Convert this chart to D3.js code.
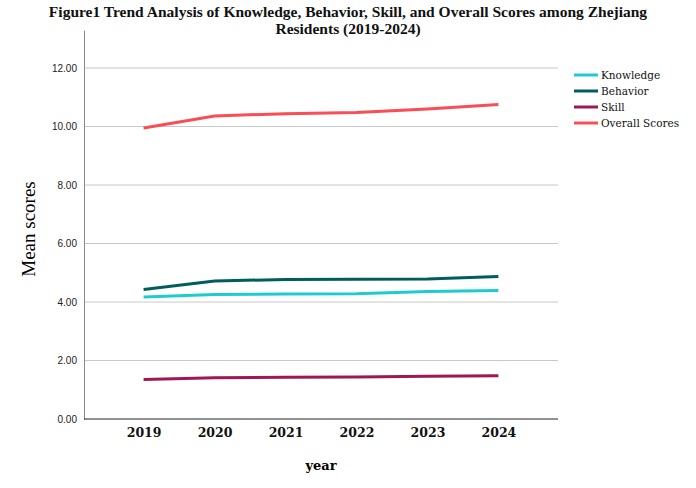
<!DOCTYPE html>
<html><head><meta charset="utf-8">
<script src="https://cdn.jsdelivr.net/npm/d3@7"></script>
<style>body{margin:0;background:#fff}</style>
</head><body>
<svg id="c" width="696" height="488"></svg>
<script>
const years = ["2019","2020","2021","2022","2023","2024"];
const knowledge = [4.17,4.26,4.27,4.28,4.36,4.39];
const behavior = [4.43,4.72,4.77,4.78,4.79,4.87];
const skill = [1.35,1.41,1.43,1.44,1.46,1.48];
const overall = [9.95,10.36,10.44,10.48,10.60,10.75];
const yTicks = [0,2,4,6,8,10,12];
const seriesNames = ["Knowledge","Behavior","Skill","Overall Scores"];
const seriesColors = ["#1ecbcf","#005d5d","#9f1853","#fa4d56"];
const seriesData = [knowledge, behavior, skill, overall];

const svg = d3.select("#c");
const L=84, R=558, T=30, B=419;
const x = d3.scalePoint().domain(years).range([L,R]).padding(0.84);
const y = d3.scaleLinear().domain([0,13.3]).range([B,T]);

// grid
svg.append("g").selectAll("line").data(yTicks.filter(d=>d>0)).join("line")
  .attr("x1",L).attr("x2",R).attr("y1",d=>y(d)).attr("y2",d=>y(d))
  .attr("stroke","#c8c8c8").attr("stroke-width",1);

// y axis
const ya = svg.append("g").attr("transform",`translate(${L},0)`)
  .call(d3.axisLeft(y).tickValues(yTicks).tickSize(0).tickPadding(7).tickFormat(d3.format(".2f")));
ya.select(".domain").attr("stroke","#888");
ya.selectAll("text").attr("font-family","Liberation Sans, Arial, sans-serif").attr("font-size",10).attr("fill","#222");

// x axis
const xa = svg.append("g").attr("transform",`translate(0,${B})`)
  .call(d3.axisBottom(x).tickSize(0).tickPadding(9));
xa.select(".domain").attr("stroke","#222").attr("d",`M${L},0H${R}`);
xa.selectAll("text").attr("font-family","DejaVu Serif, serif").attr("font-weight","bold").attr("font-size",12.5).attr("fill","#111");

// lines
const line = d3.line().x((d,i)=>x(years[i])).y(d=>y(d));
svg.append("g").selectAll("path").data(seriesData).join("path")
  .attr("d",line).attr("fill","none")
  .attr("stroke",(d,i)=>seriesColors[i]).attr("stroke-width",3);

// title
const title = svg.append("text").attr("text-anchor","middle")
  .attr("font-family","Liberation Serif, DejaVu Serif, serif").attr("font-weight","bold")
  .attr("font-size",15.5).attr("fill","#111");
title.append("tspan").attr("x",348).attr("y",17).text("Figure1 Trend Analysis of Knowledge, Behavior, Skill, and Overall Scores among Zhejiang");
title.append("tspan").attr("x",348).attr("y",34).text("Residents (2019-2024)");

// axis titles
svg.append("text").attr("x",321).attr("y",470).attr("text-anchor","middle")
  .attr("font-family","DejaVu Serif, serif").attr("font-weight","bold").attr("font-size",13).text("year");
svg.append("text").attr("transform","translate(35,229) rotate(-90)").attr("text-anchor","middle")
  .attr("font-family","Liberation Serif, serif").attr("font-size",19).text("Mean scores");

// legend
const lg = svg.append("g").attr("transform","translate(574,75)");
const items = lg.selectAll("g").data(seriesNames).join("g").attr("transform",(d,i)=>`translate(0,${i*16})`);
items.append("line").attr("x1",0).attr("x2",24).attr("y1",0).attr("y2",0)
  .attr("stroke",(d,i)=>seriesColors[i]).attr("stroke-width",3);
items.append("text").attr("x",27).attr("y",4).attr("font-family","DejaVu Serif, serif")
  .attr("font-size",10.5).attr("fill","#111").text(d=>d);
</script>
</body></html>
